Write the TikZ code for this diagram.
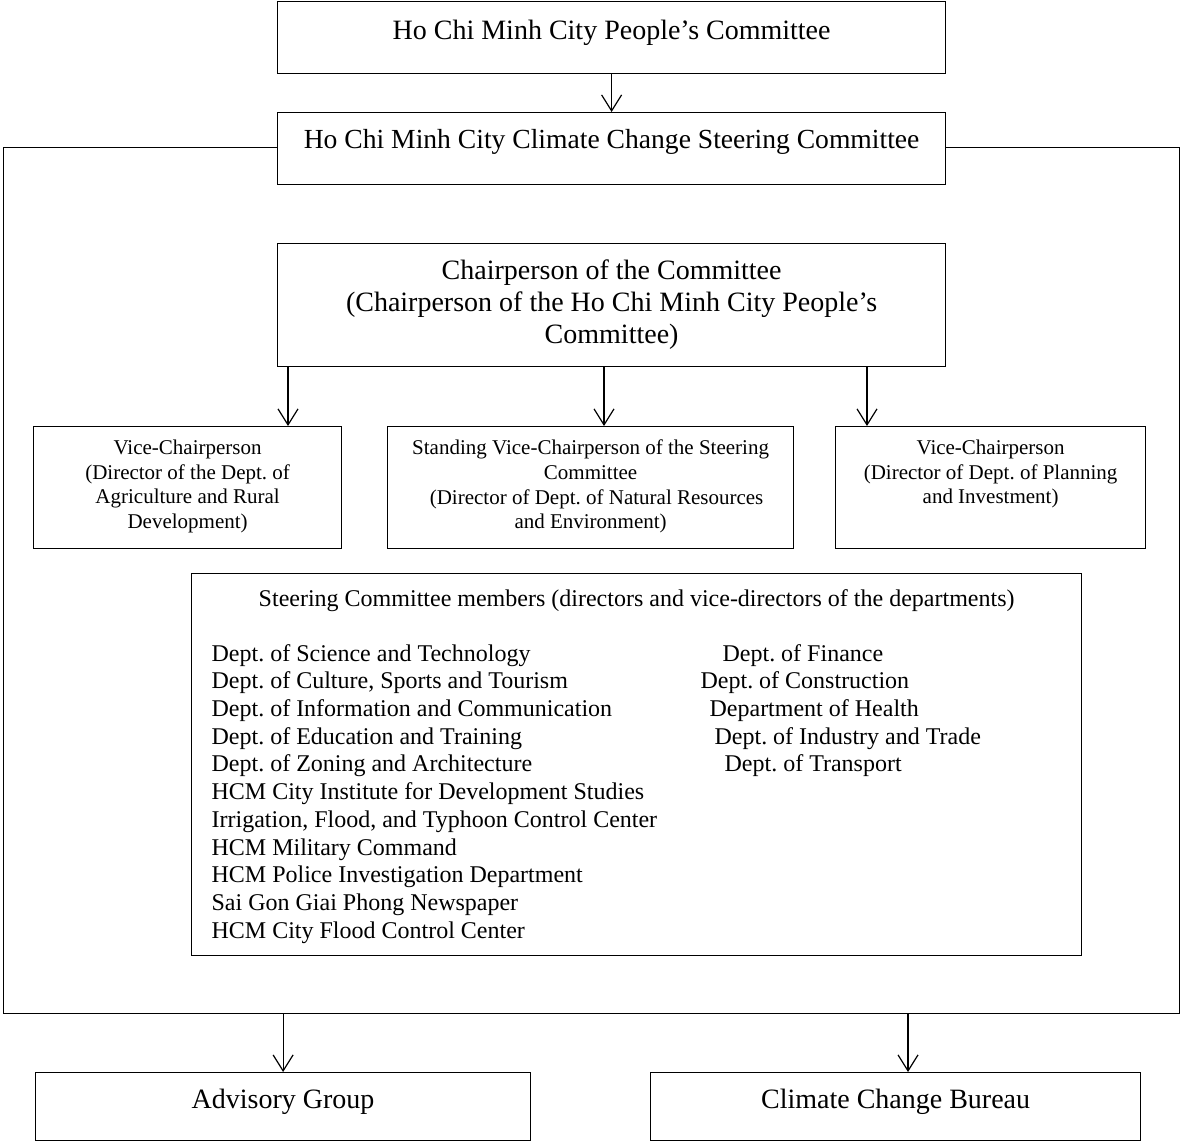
\documentclass[tikz,border=0pt]{standalone}
\usepackage{fontspec}
\setmainfont{Liberation Serif}
\usetikzlibrary{arrows.meta}
\usetikzlibrary{positioning}
\frenchspacing
\tikzstyle{block} = [draw, fill=white, rectangle, anchor=north west, inner sep=0pt]
\tikzstyle{boxtext} = [inner sep=0pt, align=center]
\tikzstyle{listtext} = [inner sep=0pt, align=left, font=\fontsize{12}{13.85}\selectfont]

\begin{document}
\begin{tikzpicture}[x=0.5pt, y=-0.5pt, line width=0.6pt, >={Straight Barb[length=8pt,width=10pt]}]
    \useasboundingbox (0,0) rectangle (1181,1142);
    % We start by placing the blocks
    \node [block, minimum width=588pt, minimum height=433pt] (frame) at (3,147) {};
    \node [block, minimum width=334pt, minimum height=36pt] (city) at (277,1) {};
    \node [block, minimum width=334pt, minimum height=36pt] (steer) at (277,112) {};
    \node [block, minimum width=334pt, minimum height=61.5pt] (chair) at (277,243) {};
    \node [block, minimum width=154pt, minimum height=61pt] (vca) at (33,426) {};
    \node [block, minimum width=203pt, minimum height=61pt] (svc) at (387,426) {};
    \node [block, minimum width=155pt, minimum height=61pt] (vcb) at (835,426) {};
    \node [block, minimum width=445pt, minimum height=191pt] (members) at (191,573) {};
    \node [block, minimum width=247.5pt, minimum height=34pt] (adv) at (35,1072) {};
    \node [block, minimum width=245pt, minimum height=34pt] (bur) at (650,1072) {};

    % then the texts inside them
    \node [boxtext, below=9.4pt of city.north, font=\fontsize{14}{16}\selectfont] (citytext)
        {Ho Chi Minh City People's Committee};
    \node [boxtext, below=8.6pt of steer.north, font=\fontsize{13.8}{16}\selectfont] (steertext)
        {Ho Chi Minh City Climate Change Steering Committee};
    \node [boxtext, below=7.9pt of chair.north, font=\fontsize{14}{16}\selectfont] (chairtext)
        {Chairperson of the Committee\\(Chairperson of the Ho Chi Minh City People's\\Committee)};
    \node [boxtext, below=6.7pt of vca.north, font=\fontsize{10.5}{12.3}\selectfont] (vcatext)
        {Vice-Chairperson\\(Director of the Dept. of\\Agriculture and Rural\\Development)};
    \node [boxtext, below=6.7pt of svc.north, font=\fontsize{10.5}{12.3}\selectfont] (svctext)
        {Standing Vice-Chairperson of the Steering\\Committee\\ \hspace*{6pt}(Director of Dept. of Natural Resources\\and Environment)};
    \node [boxtext, below=6.7pt of vcb.north, font=\fontsize{10.5}{12.3}\selectfont] (vcbtext)
        {Vice-Chairperson\\(Director of Dept. of Planning\\and Investment)};
    \node [boxtext, below=8.1pt of members.north, font=\fontsize{12}{14}\selectfont] (memberstitle)
        {Steering Committee members (directors and vice-directors of the departments)};
    \node [listtext, below right=35.3pt and 10pt of members.north west] (leftlist)
        {Dept. of Science and Technology\\
         Dept. of Culture, Sports and Tourism\\
         Dept. of Information and Communication\\
         Dept. of Education and Training\\
         Dept. of Zoning and Architecture\\
         HCM City Institute for Development Studies\\
         Irrigation, Flood, and Typhoon Control Center\\
         HCM Military Command\\
         HCM Police Investigation Department\\
         Sai Gon Giai Phong Newspaper\\
         HCM City Flood Control Center};
    \node [listtext, below right=35.3pt and 254.5pt of members.north west] (rightlist)
        {\hspace*{11pt}Dept. of Finance\\
         Dept. of Construction\\
         \hspace*{4.5pt}Department of Health\\
         \hspace*{7pt}Dept. of Industry and Trade\\
         \hspace*{12pt}Dept. of Transport};
    \node [boxtext, below=8.4pt of adv.north, font=\fontsize{14}{16}\selectfont] (advtext) {Advisory Group};
    \node [boxtext, below=8.4pt of bur.north, font=\fontsize{14}{16}\selectfont] (burtext) {Climate Change Bureau};

    % arrow positions
    \coordinate (ca) at (288,0);
    \coordinate (cb) at (604,0);
    \coordinate (cc) at (867,0);
    \coordinate (bb) at (908,0);

    \draw [->] (city) -- (steer);
    \draw [->] (chair.south -| ca) -- (vca.north -| ca);
    \draw [->] (chair.south -| cb) -- (svc.north -| cb);
    \draw [->] (chair.south -| cc) -- (vcb.north -| cc);
    \draw [->] (frame.south -| adv) -- (adv);
    \draw [->] (frame.south -| bb) -- (bur.north -| bb);
\end{tikzpicture}
\end{document}
